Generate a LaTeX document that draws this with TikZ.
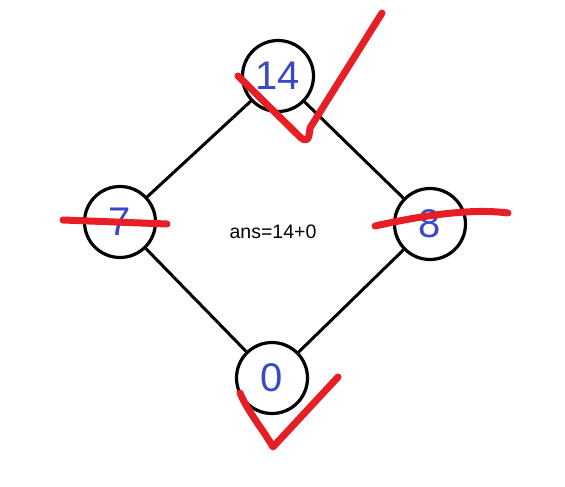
\documentclass[tikz,border=0pt]{standalone}
\usepackage{fontspec}
\setmainfont{Liberation Sans}
\definecolor{inkred}{RGB}{232,30,38}
\definecolor{inkblue}{RGB}{58,72,200}
\begin{document}
\begin{tikzpicture}[x=1pt,y=-1pt,
  vertex/.style={circle,draw,line width=3.2pt,minimum size=71pt,inner sep=0pt,
    text=inkblue,font=\fontsize{40}{40}\selectfont},
  edge/.style={line width=3pt},
  redstroke/.style={inkred,line width=7pt,line cap=round,line join=round}]
 \useasboundingbox (0,0) rectangle (565,487);
 \node[vertex] (top) at (278,76) {14};
 \node[vertex] (left) at (120,222) {7};
 \node[vertex] (right) at (430,224) {8};
 \node[vertex] (bottom) at (272,378) {0};
 \node[font=\fontsize{19.5}{19.5}\selectfont] (ans) at (273,232) {ans=14+0};
 \draw[edge] (top)--(left);
 \draw[edge] (top)--(right);
 \draw[edge] (left)--(bottom);
 \draw[edge] (right)--(bottom);
 % red marks
 \draw[redstroke] (238,76)--(300,137) .. controls (307,143) and (309,140) .. (310,128)--(382,13);
 \draw[redstroke] (63,220)--(167,224);
 \draw[redstroke] (375,226) .. controls (420,216) and (470,208) .. (508,213);
 \draw[redstroke] (240,393) .. controls (248,412) and (262,428) .. (273,447)--(338,377);
\end{tikzpicture}
\end{document}
